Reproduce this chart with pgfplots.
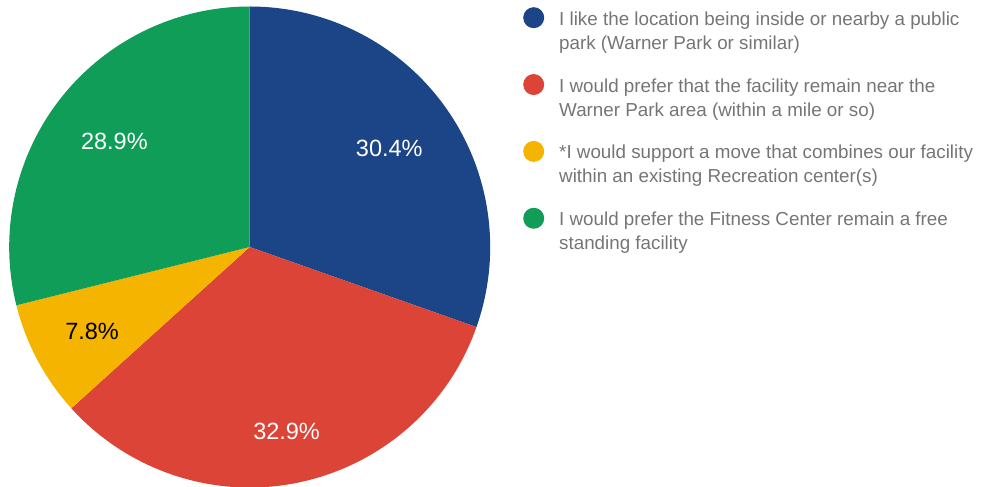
\documentclass[border=0pt]{standalone}
\usepackage{fontspec}
\setmainfont{Liberation Sans}
\usepackage{pgfplots}
\usepackage{pgfplotstable}
\pgfplotsset{compat=1.18}

\definecolor{slice0}{HTML}{1C4587}
\definecolor{slice1}{HTML}{DB4437}
\definecolor{slice2}{HTML}{F4B400}
\definecolor{slice3}{HTML}{0F9D58}
\definecolor{labelcol0}{HTML}{FFFFFF}
\definecolor{labelcol1}{HTML}{FFFFFF}
\definecolor{labelcol2}{HTML}{000000}
\definecolor{labelcol3}{HTML}{FFFFFF}
\definecolor{legendgray}{HTML}{757575}

\newcommand\labelfont{\fontsize{23.5}{28}\selectfont}
\newcommand\legendfont{\fontsize{18.8}{24}\selectfont}

% share of answers (percent) and where its label sits (fraction of radius)
\pgfplotstableread{
value lr
30.4 0.711
32.9 0.780
7.8  0.743
28.9 0.714
}\piedata

\begin{document}
\begin{tikzpicture}
\path[use as bounding box] (0,0) rectangle (994pt,487pt);
\begin{axis}[
    hide axis,
    scale only axis,
    x=240.5pt, y=240.5pt,
    xmin=-1, xmax=1, ymin=-1, ymax=1,
    clip=false,
    at={(249.7pt,240pt)}, anchor=center,
    legend image code/.code={\fill[#1] (10.5pt,13.5pt) circle (10.5pt);},
    legend style={
        at={(1.0682,0.999)}, anchor=north west,
        draw=none, fill=none, inner sep=0pt,
        row sep=21.3pt, column sep=13pt,
        font=\legendfont, text=legendgray,
        cells={anchor=west, align=left, inner sep=0pt},
    },
]
\def\angstart{90}
\pgfplotsforeachungrouped \i in {0,...,3}{
    \pgfplotstablegetelem{\i}{value}\of\piedata \let\val\pgfplotsretval
    \pgfplotstablegetelem{\i}{lr}\of\piedata \let\lr\pgfplotsretval
    \pgfmathsetmacro\angend{\angstart-3.6*\val}
    \pgfmathsetmacro\angmid{(\angstart+\angend)/2}
    \edef\doslice{%
        \noexpand\fill[slice\i] (axis cs:0,0) -- (axis cs:{cos(\angstart)},{sin(\angstart)})
            arc[start angle=\angstart, end angle=\angend, radius=240.5pt] -- cycle;
        \noexpand\node[text=labelcol\i, font=\noexpand\labelfont]
            at (axis cs:{\lr*cos(\angmid)},{\lr*sin(\angmid)}) {\val\noexpand\%};
        \noexpand\addlegendimage{fill=slice\i, draw=none}
    }
    \doslice
    \let\angstart\angend
}
\addlegendentry{I like the location being inside or nearby a public\\park (Warner Park or similar)}
\addlegendentry{I would prefer that the facility remain near the\\Warner Park area (within a mile or so)}
\addlegendentry{*I would support a move that combines our facility\\within an existing Recreation center(s)}
\addlegendentry{I would prefer the Fitness Center remain a free\\standing facility}
\end{axis}
\end{tikzpicture}
\end{document}
